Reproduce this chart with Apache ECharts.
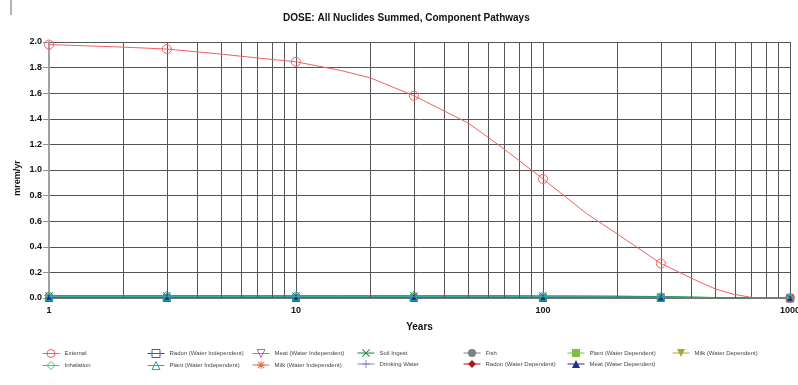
<!DOCTYPE html>
<html><head><meta charset="utf-8">
<script src="https://cdn.jsdelivr.net/npm/echarts@6/dist/echarts.min.js"></script>
<style>html,body{margin:0;padding:0;background:#fff;}#c{width:798px;height:385px;}</style>
</head><body><div id="c"></div>
<script>
// Time points (years) and which ones carry markers
var times = [1,2,3,5,7,10,15,20,30,50,70,100,150,200,300,430,500,590,720,1000];
var markerTimes = [1,3,10,30,100,300,1000];
var minorGridTimes = [2,3,4,5,6,7,8,9,20,30,40,50,60,70,80,90,200,300,400,500,600,700,800,900];
var xTickLabels = ['1','10','100','1000'];

var external      = [1.98,1.96,1.945,1.905,1.875,1.845,1.78,1.72,1.58,1.365,1.16,0.93,0.66,0.50,0.27,0.125,0.07,0.03,0.0,0.0];
var inhalation    = [0.019,0.019,0.019,0.019,0.018,0.018,0.018,0.018,0.018,0.018,0.018,0.017,0.016,0.015,0.012,0.007,0.004,0.002,0.0,0.0];
var soilIngest    = [0.016,0.016,0.016,0.016,0.016,0.016,0.016,0.016,0.016,0.016,0.016,0.015,0.014,0.013,0.010,0.005,0.003,0.001,0.0,0.0];
var plantWI       = [0.011,0.011,0.011,0.011,0.011,0.011,0.011,0.011,0.011,0.011,0.011,0.010,0.010,0.009,0.007,0.004,0.002,0.001,0.0,0.0];
var zeros         = [0,0,0,0,0,0,0,0,0,0,0,0,0,0,0,0,0,0,0,0];
var radonWI = zeros, meatWI = zeros, milkWI = zeros, drinkingWater = zeros, fish = zeros,
    radonWD = zeros, plantWD = zeros, meatWD = zeros, milkWD = zeros;

var PLUS = 'path://M4.4,0 h1.2 v4.4 h4.4 v1.2 h-4.4 v4.4 h-1.2 v-4.4 h-4.4 v-1.2 h4.4 z';
var XMARK = 'path://M0,0.8 L0.8,0 L5,4.2 L9.2,0 L10,0.8 L5.8,5 L10,9.2 L9.2,10 L5,5.8 L0.8,10 L0,9.2 L4.2,5 z';
var STAR = 'path://M4.4,0 h1.2 v4.4 h4.4 v1.2 h-4.4 v4.4 h-1.2 v-4.4 h-4.4 v-1.2 h4.4 z M0.6,1.4 L1.4,0.6 L5,4.2 L8.6,0.6 L9.4,1.4 L5.8,5 L9.4,8.6 L8.6,9.4 L5,5.8 L1.4,9.4 L0.6,8.6 L4.2,5 z';

function mk(name, vals, color, symbol, empty, rotate, z, size) {
  var data = times.map(function (t, i) {
    var d = {value: [t, vals[i]]};
    if (markerTimes.indexOf(t) < 0) d.symbol = 'none';
    return d;
  });
  return {
    name: name, type: 'line', data: data, symbol: symbol, symbolSize: size || 9,
    symbolRotate: rotate || 0, showAllSymbol: true, z: z || 2,
    lineStyle: {color: color, width: 1},
    itemStyle: empty ? {color: 'rgba(255,255,255,0)', borderColor: color, borderWidth: 1}
                     : {color: color, borderWidth: 0},
    animation: false, silent: true
  };
}

var series = [
  mk('External', external, '#f06060', 'circle', true, 0, 5),
  mk('Inhalation', inhalation, '#4cc07a', 'diamond', true, 0, 3),
  mk('Radon (Water Independent)', radonWI, '#3a5fad', 'rect', true, 0, 2, 7),
  mk('Plant (Water Independent)', plantWI, '#2aa8b0', 'triangle', true, 0, 4, 8),
  mk('Meat (Water Independent)', meatWI, '#c060c0', 'triangle', true, 180, 2, 7),
  mk('Milk (Water Independent)', milkWI, '#e07040', STAR, false, 0, 2, 7),
  mk('Soil Ingest', soilIngest, '#1f8048', XMARK, false, 0, 3, 8),
  mk('Drinking Water', drinkingWater, '#8a7fd0', PLUS, false, 0, 2, 7),
  mk('Fish', fish, '#808080', 'circle', false, 0, 2, 6),
  mk('Radon (Water Dependent)', radonWD, '#b01818', 'diamond', false, 0, 2, 6),
  mk('Plant (Water Dependent)', plantWD, '#7cc040', 'rect', false, 0, 2, 6),
  mk('Meat (Water Dependent)', meatWD, '#23308f', 'triangle', false, 0, 3, 7),
  mk('Milk (Water Dependent)', milkWD, '#a8a830', 'triangle', false, 180, 2, 6)
];
series[0].markLine = {
  silent: true, symbol: ['none', 'none'], animation: false,
  label: {show: false},
  lineStyle: {color: '#555', width: 1, type: 'solid'},
  data: minorGridTimes.map(function (t) { return {xAxis: t}; })
};

var cols = [[0,1],[2,3],[4,5],[6,7],[8,9],[10,11],[12]];
var colLeft = [42,147,252,357,463,567,672];
var legends = cols.map(function (idx, c) {
  return {
    orient: 'vertical', left: colLeft[c], top: 349, padding: 0,
    itemWidth: 17, itemHeight: 10, itemGap: 3,
    lineStyle: {width: 1},
    itemStyle: {borderWidth: 1},
    textStyle: {fontSize: 6, color: '#444', fontFamily: 'Liberation Sans, Arial, sans-serif'},
    data: idx.map(function (i) { return series[i].name; }),
    selectedMode: false
  };
});

var chart = echarts.init(document.getElementById('c'), null, {renderer: 'canvas'});
chart.setOption({
  backgroundColor: '#fff',
  animation: false,
  textStyle: {fontFamily: 'Liberation Sans, Arial, sans-serif'},
  title: {
    text: 'DOSE: All Nuclides Summed, Component Pathways', left: 278, top: 8,
    textStyle: {fontSize: 10, fontWeight: 'bold', color: '#111', fontFamily: 'Liberation Sans, Arial, sans-serif'}
  },
  legend: legends,
  grid: {left: 49, right: 8, top: 42, bottom: 87, containLabel: false, outerBoundsMode: 'none'},
  xAxis: {
    type: 'log', logBase: 10, min: 1, max: 1000,
    name: 'Years', nameLocation: 'middle', nameGap: 24, nameMoveOverlap: false,
    nameTextStyle: {fontSize: 10, fontWeight: 'bold', color: '#111'},
    axisLine: {show: true, lineStyle: {color: '#a0a0a0', width: 2}},
    axisTick: {show: false},
    axisLabel: {fontSize: 9, fontWeight: 'bold', color: '#111', margin: 8, hideOverlap: false,
      formatter: function (v) { var s = String(Math.round(v)); return xTickLabels.indexOf(s) >= 0 ? s : ''; }},
    splitLine: {show: true, lineStyle: {color: '#555', width: 1}}
  },
  yAxis: {
    type: 'value', min: 0, max: 2, interval: 0.2,
    name: 'mrem/yr', nameLocation: 'middle', nameGap: 27, nameMoveOverlap: false,
    nameTextStyle: {fontSize: 9, fontWeight: 'bold', color: '#111', padding: [0, 16, 0, 0]},
    axisLine: {show: true, lineStyle: {color: '#a0a0a0', width: 2}},
    axisTick: {show: true, length: 6, lineStyle: {color: '#909090', width: 1}},
    axisLabel: {fontSize: 9, fontWeight: 'bold', color: '#111', margin: 7,
      formatter: function (v) { return v.toFixed(1); }},
    splitLine: {show: true, lineStyle: {color: '#555', width: 1}}
  },
  graphic: [{type: 'line', shape: {x1: 11, y1: 0, x2: 11, y2: 15}, style: {stroke: '#666', lineWidth: 1}, silent: true}],
  series: series
});
</script></body></html>
